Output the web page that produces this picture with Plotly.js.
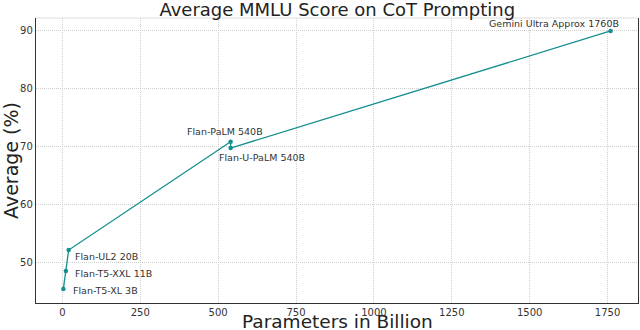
<!DOCTYPE html>
<html lang="en">
<head>
    <meta charset="UTF-8">
    <title>Average MMLU Score on CoT Prompting</title>
    <script src="https://cdn.plot.ly/plotly-3.0.1.min.js"></script>
    <style>
        body { margin: 0; padding: 0; background: #fff; }
        #grafico { width: 640px; height: 330px; }
    </style>
</head>
<body>
    <div id="grafico"></div>

    <script>
        // Dados
        const modelos = ['Flan-T5-XL 3B', 'Flan-T5-XXL 11B', 'Flan-UL2 20B', 'Flan-PaLM 540B', 'Flan-U-PaLM 540B', 'Gemini Ultra Approx 1760B'];
        const parametros = [3, 11, 20, 540, 540, 1760];
        const medias = [45.5, 48.6, 52.2, 70.9, 69.8, 90.0];
        const xTicks = [0, 250, 500, 750, 1000, 1250, 1500, 1750];
        const yTicks = [50, 60, 70, 80, 90];

        const cor = '#138f8f';
        const fonte = 'DejaVu Sans, sans-serif';

        // deslocamento dos rótulos (px) para cada ponto
        const rotulos = [
            { xanchor: 'left', xshift: 8, yshift: -2 },
            { xanchor: 'left', xshift: 7, yshift: -3 },
            { xanchor: 'left', xshift: 4, yshift: -6 },
            { xanchor: 'center', xshift: -6, yshift: 10 },
            { xanchor: 'left', xshift: -14, yshift: -9 },
            { xanchor: 'right', xshift: 10, yshift: 7 }
        ];

        var trace = {
            x: parametros,
            y: medias,
            type: 'scatter',
            mode: 'lines+markers',
            line: { color: cor, width: 1.3 },
            marker: { color: cor, size: 4.5 },
            hoverinfo: 'skip'
        };

        var anotacoes = modelos.map(function (m, i) {
            return {
                x: parametros[i], y: medias[i], xref: 'x', yref: 'y',
                text: m, showarrow: false,
                xanchor: rotulos[i].xanchor, yanchor: 'middle',
                xshift: rotulos[i].xshift, yshift: rotulos[i].yshift,
                font: { family: fonte, size: 9.5, color: '#333' }
            };
        });

        // título do eixo x como anotação (para ficar abaixo dos rótulos)
        anotacoes.push({
            xref: 'paper', yref: 'paper', x: 0.5, y: -0.064,
            xanchor: 'center', yanchor: 'middle', showarrow: false,
            text: 'Parameters in Billion',
            font: { family: fonte, size: 18.5, color: '#222' }
        });

        var layout = {
            width: 640,
            height: 330,
            margin: { l: 36, r: 2, t: 18, b: 27 },
            paper_bgcolor: '#fff',
            plot_bgcolor: '#fff',
            showlegend: false,
            title: {
                text: 'Average MMLU Score on CoT Prompting',
                font: { family: fonte, size: 18, color: '#222' },
                x: 0.527, xanchor: 'center',
                y: 0.99, yanchor: 'top', yref: 'container'
            },
            xaxis: {
                range: [-84.85, 1847.85],
                tickvals: xTicks,
                ticks: '',
                showline: true, linecolor: '#333', linewidth: 1.2,
                showgrid: true, gridcolor: '#cfcfcf', griddash: '1px,1px', gridwidth: 1,
                zeroline: false,
                tickfont: { family: fonte, size: 10, color: '#333' },
                automargin: false
            },
            yaxis: {
                range: [43.07, 92.24],
                tickvals: yTicks,
                ticks: '',
                showline: true, linecolor: '#333', linewidth: 1.2, mirror: true,
                showgrid: true, gridcolor: '#cfcfcf', griddash: '1px,1px', gridwidth: 1,
                zeroline: false,
                tickfont: { family: fonte, size: 10, color: '#333' },
                title: { text: 'Average (%)', font: { family: fonte, size: 19, color: '#222' }, standoff: 0 },
                automargin: false
            },
            shapes: [
                // borda superior clara
                { type: 'line', xref: 'paper', yref: 'paper', x0: 0, x1: 1, y0: 1, y1: 1,
                  line: { color: '#dddddd', width: 1 } }
            ],
            annotations: anotacoes
        };

        Plotly.newPlot('grafico', [trace], layout, { displayModeBar: false, staticPlot: true });
    </script>
</body>
</html>
